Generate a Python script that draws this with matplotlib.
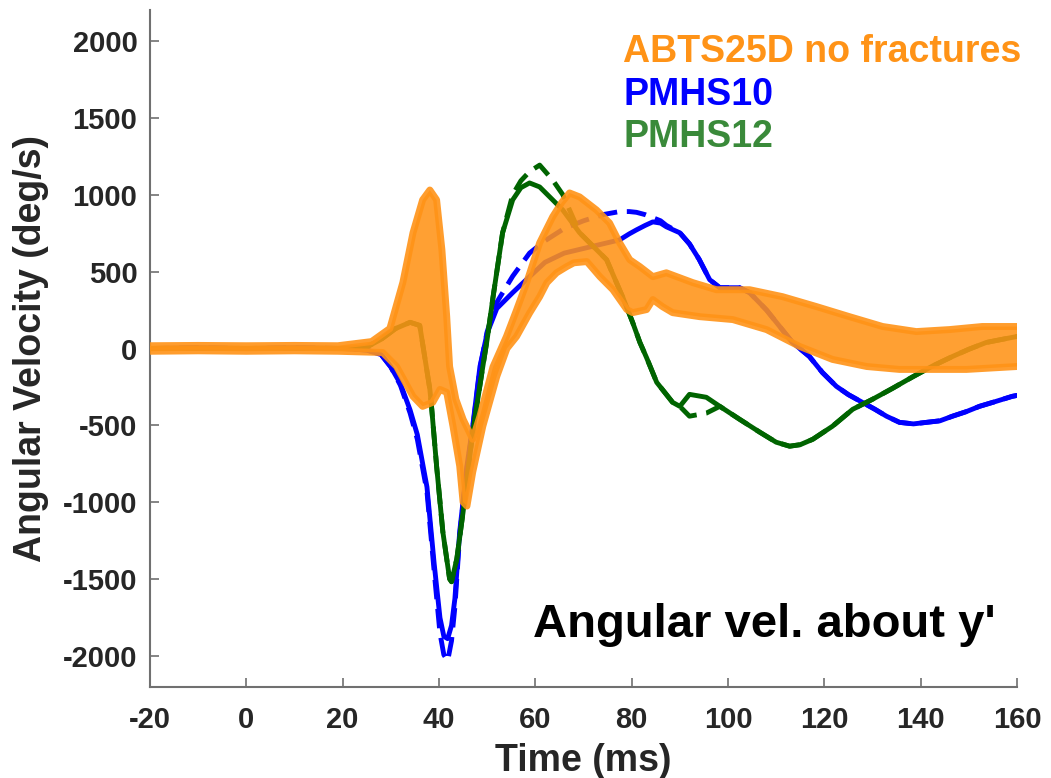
import matplotlib
matplotlib.use("Agg")
import matplotlib.pyplot as plt
import numpy as np

plt.rcParams['font.family'] = ['Liberation Sans', 'DejaVu Sans']
plt.rcParams['font.weight'] = 'bold'
plt.rcParams['axes.unicode_minus'] = False

# PMHS10 (blue), solid and dashed traces
t_blue = [-20, -10, 0, 10, 20, 25, 28, 30, 32, 34, 35.5, 37.5, 39, 40.2, 41, 41.8, 42.6, 43.3,
          44.3, 45.8, 47, 48.5, 50, 52, 55.3, 58.8, 62, 66, 70, 74, 77.5, 79.5, 81, 82.8,
          84.4, 86, 87.2, 90, 92, 94, 96.2, 98.3, 102.4, 104.5, 108, 113.4, 116.9, 119.6,
          122.5, 125, 127.9, 130.5, 132.9, 135.6, 138.5, 141.2, 144, 146.6, 149.5, 152.2,
          155.5, 159, 160]
v_blue = [0, 5, 0, 5, 0, -10, -40, -120, -230, -400, -560, -900, -1400, -1750, -1870, -1886,
          -1800, -1626, -1190, -764, -505, -117, 100, 260, 363, 467, 560, 620, 650, 680, 706,
          745, 771, 800, 823, 815, 791, 752, 680, 580, 447, 395, 395, 363, 250, 39, -52,
          -156, -246, -300, -350, -395, -440, -480, -490, -480, -470, -440, -410, -376,
          -345, -311, -305]
v_blue_d = [0, 5, 0, 5, 0, -10, -40, -120, -240, -420, -590, -930, -1450, -1850, -1990, -2030,
            -1900, -1680, -1210, -780, -520, -130, 110, 300, 470, 620, 700, 780, 830, 870, 890,
            890, 885, 870, 850, 830, 800, 752, 680, 580, 447, 395, 395, 363, 250, 39, -52,
            -156, -246, -300, -350, -395, -440, -480, -490, -480, -470, -440, -410, -376,
            -345, -311, -305]

# PMHS12 (green), solid and dashed traces
t_green = [-20, -10, 0, 10, 20, 25, 28, 31, 34, 36, 38.1, 38.5, 39.5, 40.8, 42.2, 42.6, 43.7,
           45, 47, 49.1, 50, 51.2, 53.2, 55.3, 57, 58.8, 60.9, 63.6, 65.7, 69.2, 74.8, 78.1,
           80.2, 81.7, 83.1, 85.2, 88.5, 90, 92, 95.5, 98.3, 102.4, 106.6, 110, 112.8, 115,
           117.6, 121.7, 125.9, 130, 134.1, 138.3, 142.4, 146.6, 150, 153.6, 157, 160]
v_green = [0, 0, 0, 0, 0, 10, 60, 130, 170, 150, -265, -395, -764, -1192, -1497, -1516, -1367,
           -1063, -545, -117, 60, 330, 752, 966, 1045, 1076, 1050, 966, 900, 752, 577, 337,
           170, 40, -60, -220, -350, -376, -298, -317, -376, -460, -544, -609, -635, -625,
           -590, -505, -395, -330, -260, -185, -115, -52, -5, 39, 60, 78]
v_green_d = [0, 0, 0, 0, 0, 10, 60, 130, 170, 150, -265, -395, -764, -1192, -1497, -1516, -1367,
             -1063, -545, -117, 60, 330, 752, 1000, 1090, 1150, 1192, 1095, 1000, 752, 577, 337,
             170, 40, -60, -220, -350, -376, -440, -420, -376, -460, -544, -609, -635, -625,
             -590, -505, -395, -330, -260, -185, -115, -52, -5, 39, 60, 78]

# ABTS25D corridor (upper / lower bounds)
t_up = [-20, -10, 0, 10, 19, 26, 29.8, 32.5, 34.6, 36.6, 38.1, 39.5, 40.6, 41.6, 42.2, 43.5,
        45, 47, 48.5, 51.2, 54, 56.1, 58.2, 60.9, 63.6, 65.5, 67.1, 69.2, 72.7, 75.4, 77.5,
        79.6, 81.7, 84.4, 87.2, 92.7, 97.6, 104.5, 111.3, 118.4, 125.2, 132.1, 139.1, 146,
        152.8, 160]
v_up = [18, 20, 18, 20, 18, 45, 130, 430, 752, 966, 1030, 966, 642, 207, -117, -330,
        -460, -590, -440, -120, 78, 250, 428, 687, 856, 950, 1011, 985, 900, 816, 687,
        577, 532, 467, 492, 428, 382, 382, 337, 272, 207, 143, 110, 123, 143, 143]
t_lo = [-20, -10, 0, 10, 19, 28.3, 31.2, 34.6, 36.6, 38.7, 40.2, 41.6, 42.9, 44.3, 45, 45.8,
        47, 49.1, 52, 54.1, 56.1, 58.8, 60.9, 62.4, 64.4, 66.5, 68, 70.7, 73.4, 76.1, 79,
        80.2, 83.1, 84.4, 86.4, 88.5, 94.1, 101, 108, 114.9, 121.7, 128.8, 135.6, 142.4,
        149.5, 160]
v_lo = [-18, -15, -18, -15, -18, -26, -117, -311, -376, -350, -266, -285, -505, -764, -998,
        -1024, -803, -505, -181, 0, 78, 230, 337, 428, 492, 532, 557, 565, 467, 382, 253,
        233, 253, 318, 272, 233, 207, 188, 123, 13, -71, -117, -136, -136, -136, -117]

BLUE = '#0000ff'
GREEN = '#006400'
ORANGE = '#ff9317'

fig = plt.figure(figsize=(10.51, 7.78), dpi=100)
ax = fig.add_axes([150 / 1051, 1 - 687 / 778, 867 / 1051, 677 / 778])

ax.plot(t_blue, v_blue, color=BLUE, lw=3.5, zorder=2)
ax.plot(t_blue, v_blue_d, color=BLUE, lw=3.5, dashes=(4, 2), zorder=2)
ax.plot(t_green, v_green, color=GREEN, lw=3.5, zorder=2)
ax.plot(t_green, v_green_d, color=GREEN, lw=3.5, dashes=(4, 2), zorder=2)

band_x = np.concatenate([t_up, t_lo[::-1]])
band_y = np.concatenate([v_up, v_lo[::-1]])
ax.fill(band_x, band_y, color=ORANGE, alpha=0.88, lw=0, zorder=3)
ax.plot(t_up, v_up, color=ORANGE, lw=5, alpha=0.9, zorder=4, solid_joinstyle='round')
ax.plot(t_lo, v_lo, color=ORANGE, lw=5, alpha=0.9, zorder=4, solid_joinstyle='round')

ax.set_xlim(-20, 160)
ax.set_ylim(-2200, 2200)
ax.set_xticks(np.arange(-20, 161, 20))
ax.set_yticks(np.arange(-2000, 2001, 500))

for s in ['top', 'right']:
    ax.spines[s].set_visible(False)
for s in ['left', 'bottom']:
    ax.spines[s].set_color('#707070')
    ax.spines[s].set_linewidth(1.5)
ax.tick_params(direction='in', length=6.5, width=1.2, color='#707070',
               labelsize=21, labelcolor='#262626', pad=9)
ax.tick_params(axis='x', pad=14)
for lab in ax.get_xticklabels() + ax.get_yticklabels():
    lab.set_fontweight('bold')

ax.set_xlabel('Time (ms)', fontsize=27, fontweight='bold', color='#262626', labelpad=6)
ax.set_ylabel('Angular Velocity (deg/s)', fontsize=27, fontweight='bold', color='#262626', labelpad=10)

fig.text(623 / 1051, 1 - 62 / 778, 'ABTS25D no fractures', color=ORANGE, fontsize=27,
         fontweight='bold', va='baseline', ha='left')
fig.text(623 / 1051, 1 - 105 / 778, 'PMHS10', color=BLUE, fontsize=27,
         fontweight='bold', va='baseline', ha='left')
fig.text(623 / 1051, 1 - 147 / 778, 'PMHS12', color='#3a8a3a', fontsize=27,
         fontweight='bold', va='baseline', ha='left')
fig.text(533 / 1051, 1 - 637 / 778, "Angular vel. about y'", color='black', fontsize=34,
         fontweight='bold', va='baseline', ha='left')

fig.savefig('out.png', dpi=100)
